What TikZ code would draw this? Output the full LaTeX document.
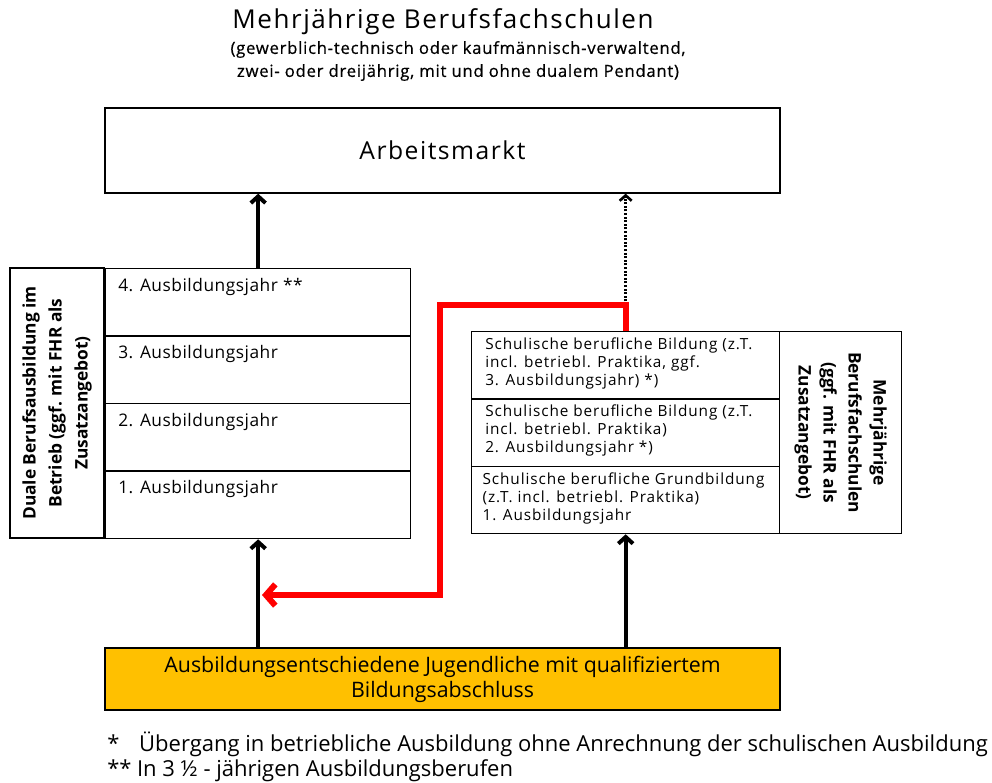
\documentclass[tikz,border=0pt]{standalone}
\usepackage{fontspec}
\setmainfont{Open Sans}
\usetikzlibrary{arrows.meta,positioning}
\definecolor{gelb}{HTML}{FFC000}
\definecolor{rot}{HTML}{FF0000}

\begin{document}
\begin{tikzpicture}[x=0.75pt,y=-0.75pt,
  kasten/.style={draw,line width=1pt,inner sep=0pt},
  jahr/.style={kasten,minimum width=228.75pt,minimum height=50.6pt},
  schule/.style={kasten,minimum width=231pt,minimum height=50.5pt},
  eintrag/.style={anchor=north west,inner sep=0pt,align=left},
  pfeil/.style={line width=3pt,-{Straight Barb[length=5pt,width=11pt]}},
  rotpfeil/.style={rot,line width=4.5pt,-{Straight Barb[length=7pt,width=16pt]}},
  punktpfeil/.style={line width=2pt,dash pattern=on 1.5pt off 1.2pt,-{Straight Barb[length=4pt,width=9pt]}}]
  \useasboundingbox (0,0) rectangle (992,782);

  % Titel
  \node (titel) at (443,22) {\fontsize{19.5}{22}\selectfont\addfontfeature{LetterSpace=6}Mehrjährige Berufsfachschulen};
  \node[align=center,font=\fontsize{12.5}{17.25}\selectfont] (untertitel) at (458,61)
    {\addfontfeature{FakeBold=0.6,LetterSpace=4.5}(gewerblich-technisch oder kaufmännisch-verwaltend,\\
     \addfontfeature{FakeBold=0.6,LetterSpace=4.5}zwei- oder dreijährig, mit und ohne dualem Pendant)};

  % Arbeitsmarkt
  \node[kasten,minimum width=506.25pt,minimum height=63.75pt] (markt) at (442.5,150.5)
    {\fontsize{18.5}{22}\selectfont\addfontfeature{LetterSpace=6}Arbeitsmarkt};

  % Duale Ausbildung
  \node[kasten,line width=1.4pt,minimum width=70.5pt,minimum height=202.5pt] (dual) at (57,403) {};
  \node[rotate=90,align=center,font=\bfseries\fontsize{13}{19.5}\selectfont] (dualtext) at (dual.center)
    {Duale Berufsausbildung im\\Betrieb (ggf. mit FHR als\\Zusatzangebot)};
  \foreach \n/\txt [count=\i from 0] in {4/{4. Ausbildungsjahr **},3/{3. Ausbildungsjahr},
      2/{2. Ausbildungsjahr},1/{1. Ausbildungsjahr}} {
    \node[jahr,anchor=north west] (jahr\n) at (105,268+67.5*\i) {};
    \node[anchor=base west,inner sep=0pt,font=\fontsize{13}{16}\selectfont]
      at ([xshift=9.75pt,yshift=-17.25pt]jahr\n.north west) {\addfontfeature{LetterSpace=3}\txt};
  }

  % Schulische Ausbildung
  \foreach \n/\txt/\dx [count=\i from 0] in {
      3/{Schulische berufliche Bildung (z.T.\\incl. betriebl. Praktika, ggf.\\3. Ausbildungsjahr) *)}/10.5,
      2/{Schulische berufliche Bildung (z.T.\\incl. betriebl. Praktika)\\2. Ausbildungsjahr *)}/10.5,
      1/{Schulische berufliche Grundbildung\\(z.T. incl. betriebl. Praktika)\\1. Ausbildungsjahr}/8.5} {
    \node[schule,anchor=north west] (schule\n) at (471,331+67.3*\i) {};
    \node[eintrag,font=\fontsize{11.5}{13.5}\selectfont\addfontfeature{LetterSpace=6}]
      at ([xshift=\dx pt,yshift=-5pt]schule\n.north west) {\txt};
  }
  \node[kasten,minimum width=91.5pt,minimum height=151.5pt,anchor=north west] (bfs) at (779,331) {};
  \node[rotate=-90,align=center,font=\bfseries\fontsize{13}{18.75}\selectfont] (bfstext) at (bfs.center)
    {Mehrjährige\\Berufsfachschulen\\(ggf. mit FHR als\\Zusatzangebot)};

  % Jugendliche
  \node[kasten,fill=gelb,minimum width=506.25pt,minimum height=46.5pt,align=center,
    font=\fontsize{16}{18.75}\selectfont] (jugend) at (442.5,679)
    {Ausbildungsentschiedene Jugendliche mit qualifiziertem\\Bildungsabschluss};

  % Pfeile
  \coordinate (knick) at ([yshift=19.5pt]schule3.north);
  \coordinate (rotende) at (262,595);
  \draw[pfeil] (jahr4.north) -- (jahr4.north |- markt.south);
  \draw[punktpfeil] (knick) -- (knick |- markt.south);
  \draw[rotpfeil] (schule3.north) -- (knick) -| (440,595) -- (rotende);
  \draw[pfeil] (jugend.north -| jahr1.south) -- (jahr1.south);
  \draw[pfeil] (jugend.north -| schule1.south) -- (schule1.south);

  % Fussnoten
  \node[anchor=base west,inner sep=0pt,font=\fontsize{16.5}{18}\selectfont] (fn1) at (107,751)
    {*\hspace{0.9em}Übergang in betriebliche Ausbildung ohne Anrechnung der schulischen Ausbildung};
  \node[anchor=base west,inner sep=0pt,font=\fontsize{16.5}{18}\selectfont] (fn2) at (107,776)
    {**\hspace{0.25em}In 3 ½ - jährigen Ausbildungsberufen};
\end{tikzpicture}
\end{document}
